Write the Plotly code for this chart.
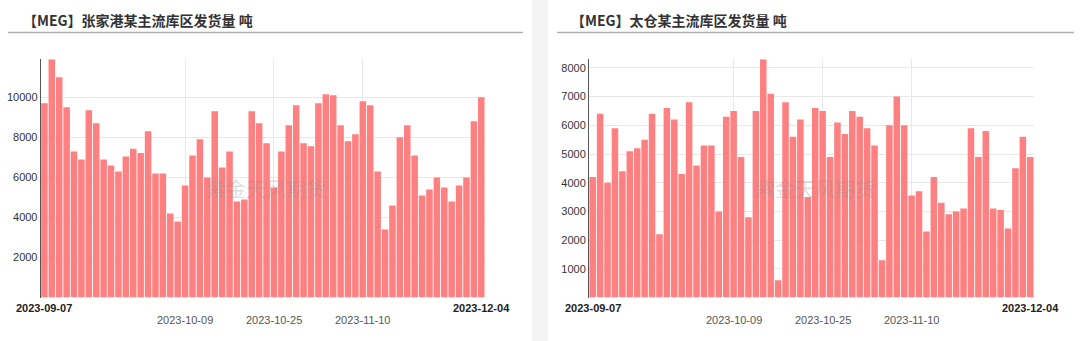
import plotly.graph_objects as go

dates = [
    "2023-09-07", "2023-09-08", "2023-09-11", "2023-09-12", "2023-09-13", "2023-09-14", "2023-09-15",
    "2023-09-18", "2023-09-19", "2023-09-20", "2023-09-21", "2023-09-22", "2023-09-25", "2023-09-26",
    "2023-09-27", "2023-09-28", "2023-09-29", "2023-10-07", "2023-10-08", "2023-10-09", "2023-10-10",
    "2023-10-11", "2023-10-12", "2023-10-13", "2023-10-16", "2023-10-17", "2023-10-18", "2023-10-19",
    "2023-10-20", "2023-10-23", "2023-10-24", "2023-10-25", "2023-10-26", "2023-10-27", "2023-10-30",
    "2023-10-31", "2023-11-01", "2023-11-02", "2023-11-03", "2023-11-06", "2023-11-07", "2023-11-08",
    "2023-11-09", "2023-11-10", "2023-11-13", "2023-11-14", "2023-11-15", "2023-11-16", "2023-11-17",
    "2023-11-20", "2023-11-21", "2023-11-22", "2023-11-23", "2023-11-24", "2023-11-27", "2023-11-28",
    "2023-11-29", "2023-11-30", "2023-12-01", "2023-12-04",
]

zhangjiagang = [
    9700, 11900, 11000, 9500, 7300, 6900, 9350, 8700, 6900, 6600,
    6300, 7050, 7430, 7220, 8300, 6200, 6200, 4200, 3800, 5600,
    7100, 7900, 6000, 9300, 6500, 7300, 4800, 4900, 9300, 8700,
    7700, 5500, 7300, 8600, 9600, 7700, 7550, 9700, 10150, 10100,
    8600, 7800, 8150, 9800, 9600, 6300, 3400, 4600, 8000, 8600,
    7100, 5100, 5400, 6000, 5500, 4800, 5600, 6000, 8800, 10000,
]

taicang = [
    4200, 6400, 4000, 5900, 4400, 5100, 5200, 5500, 6400, 2200,
    6600, 6200, 4300, 6800, 4600, 5300, 5300, 3000, 6300, 6500,
    4900, 2800, 6500, 8300, 7100, 600, 6800, 5600, 6200, 3500,
    6600, 6500, 4900, 6100, 5700, 6500, 6300, 5900, 5300, 1300,
    6000, 7000, 6000, 3550, 3700, 2300, 4200, 3300, 2900, 3000,
    3100, 5900, 4900, 5800, 3100, 3050, 2400, 4500, 5600, 4900,
]

titles = ["【MEG】张家港某主流库区发货量 吨", "【MEG】太仓某主流库区发货量 吨"]
end_labels = ["2023-09-07", "2023-12-04"]
mid_labels = ["2023-10-09", "2023-10-25", "2023-11-10"]
left_ticks = [2000, 4000, 6000, 8000, 10000]
right_ticks = [1000, 2000, 3000, 4000, 5000, 6000, 7000, 8000]
watermark = "紫金天风期货"

W, H = 1080, 341
BAR_COLOR = "#ff8080"
GRID = "#e8e8e8"
FONT = "Liberation Sans, Arial, sans-serif"
CJK = "Noto Sans CJK SC, sans-serif"


def px_x(x):
    return x / W


def px_y(y):
    return (H - y) / H


fig = go.Figure()
fig.add_trace(go.Bar(x=dates, y=zhangjiagang, marker=dict(color=BAR_COLOR, line=dict(width=0)),
                     xaxis="x", yaxis="y", showlegend=False))
fig.add_trace(go.Bar(x=dates, y=taicang, marker=dict(color=BAR_COLOR, line=dict(width=0)),
                     xaxis="x2", yaxis="y2", showlegend=False))

n = len(dates)
ydom = [px_y(297.5), px_y(59.3)]
xcommon = dict(type="category", categoryorder="array", categoryarray=dates, range=[-0.5, n - 0.5],
               tickvals=mid_labels, showticklabels=False, showgrid=True,
               gridcolor=GRID, gridwidth=1, zeroline=False, showline=False, ticks="", fixedrange=True)
ycommon = dict(showgrid=True, gridcolor=GRID, gridwidth=1, zeroline=False, showline=True,
               linecolor="#555555", linewidth=1, ticks="",
               tickfont=dict(family=FONT, size=11, color="#333333"))

fig.update_layout(
    width=W, height=H,
    margin=dict(l=0, r=0, t=0, b=0),
    paper_bgcolor="white", plot_bgcolor="white",
    bargap=0.12,
    xaxis=dict(domain=[px_x(40.7), px_x(485)], anchor="y", **xcommon),
    yaxis=dict(domain=ydom, anchor="x", range=[0, 11900], tickvals=left_ticks,
               ticktext=[str(v) for v in left_ticks], **ycommon),
    xaxis2=dict(domain=[px_x(589), px_x(1034)], anchor="y2", **xcommon),
    yaxis2=dict(domain=ydom, anchor="x2", range=[0, 8300], tickvals=right_ticks,
                ticktext=[str(v) for v in right_ticks], **ycommon),
)

shapes = [
    dict(type="rect", xref="paper", yref="paper", x0=px_x(532), x1=px_x(548), y0=0, y1=1,
         fillcolor="#f4f4f4", line=dict(width=0), layer="below"),
    dict(type="line", xref="paper", yref="paper", x0=px_x(8), x1=px_x(523), y0=px_y(32.5), y1=px_y(32.5),
         line=dict(color="#b0b0b0", width=1.5)),
    dict(type="line", xref="paper", yref="paper", x0=px_x(557), x1=px_x(1074), y0=px_y(32.5), y1=px_y(32.5),
         line=dict(color="#b0b0b0", width=1.5)),
]
fig.update_layout(shapes=shapes)

ann = []
for i, (xt, xr, wx) in enumerate([(21, "x", 266), (569, "x2", 815)]):
    ann.append(dict(text="<b>" + titles[i] + "</b>", xref="paper", yref="paper", x=px_x(xt), y=px_y(20.5),
                    xanchor="left", yanchor="middle", showarrow=False,
                    font=dict(family=CJK, size=14, color="#333333")))
    ann.append(dict(text=watermark, xref="paper", yref="paper", x=px_x(wx), y=px_y(189),
                    xanchor="center", yanchor="middle", showarrow=False,
                    font=dict(family=CJK, size=20, color="rgba(140,140,140,0.3)")))
    for lab in end_labels:
        ann.append(dict(text="<b>" + lab + "</b>", xref=xr, yref="paper", x=dates.index(lab), y=px_y(307.5),
                        xanchor="center", yanchor="middle", showarrow=False,
                        font=dict(family=FONT, size=11, color="#222222")))
    for lab in mid_labels:
        ann.append(dict(text=lab, xref=xr, yref="paper", x=dates.index(lab), y=px_y(319.5),
                        xanchor="center", yanchor="middle", showarrow=False,
                        font=dict(family=FONT, size=11, color="#555555")))
fig.update_layout(annotations=ann)

fig.write_html("out.html")
